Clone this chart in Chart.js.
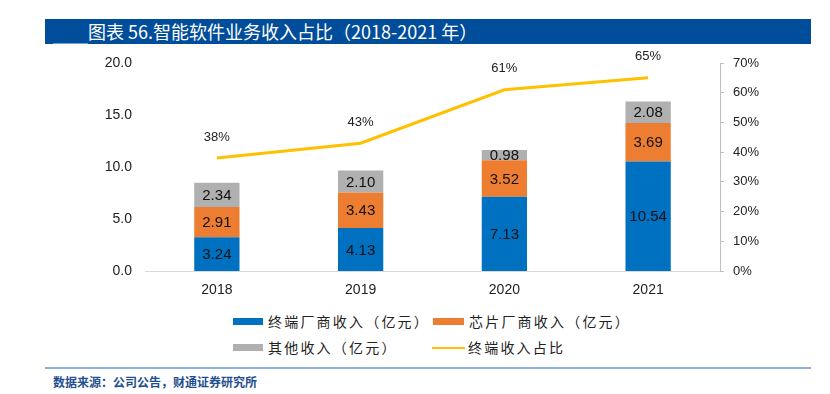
<!DOCTYPE html>
<html>
<head>
<meta charset="utf-8">
<script src="https://cdn.jsdelivr.net/npm/chart.js@4"></script>
<style>
    body { margin: 0; background: #fff; }
    #wrap { position: relative; width: 830px; height: 394px; overflow: hidden; font-family: "Noto Sans CJK SC", "Liberation Sans", sans-serif; }
    #titulo { position: absolute; left: 45px; top: 19px; width: 766px; height: 25px; background: #004d9b; }
    #titulo span { position: absolute; left: 43px; top: 0px; color: #fff; font-size: 18px; line-height: 24px; white-space: nowrap; }
    .risco { position: absolute; height: 1px; background: #6f9fd6; }
    #grafico { position: absolute; left: 0; top: 0; }
    .leg { position: absolute; font-size: 14px; color: #222; letter-spacing: 2.2px; white-space: nowrap; line-height: 16px; }
    .cx { position: absolute; }
    #fonte { position: absolute; left: 53px; top: 373px; font-size: 12px; font-weight: bold; color: #1f4f8f; white-space: nowrap; }
</style>
</head>
<body>
<div id="wrap">
    <div id="titulo"><span>图表 56.智能软件业务收入占比（2018-2021 年）</span></div>
    <div class="risco" style="left:53px; top:43px; width:35px;"></div>
    <canvas id="grafico" width="830" height="300"></canvas>

    <div class="cx" style="left:233px; top:318px; width:30px; height:7px; background:#0070c0;"></div>
    <div class="leg" style="left:268px; top:313px;">终端厂商收入（亿元）</div>
    <div class="cx" style="left:433px; top:318px; width:31px; height:7px; background:#ed7d31;"></div>
    <div class="leg" style="left:469px; top:313px;">芯片厂商收入（亿元）</div>
    <div class="cx" style="left:233px; top:344px; width:30px; height:7px; background:#b0b0b0;"></div>
    <div class="leg" style="left:268px; top:339px;">其他收入（亿元）</div>
    <div class="cx" style="left:432px; top:347px; width:33px; height:2px; background:#ffc000;"></div>
    <div class="leg" style="left:468px; top:339px;">终端收入占比</div>

    <div class="risco" style="left:45px; top:367px; width:766px; height:2px; background:#8db3e2;"></div>
    <div id="fonte">数据来源：公司公告，财通证券研究所</div>
</div>
<script>
// Dados do gráfico
const anos = ['2018', '2019', '2020', '2021'];
const receitaTerminal = [3.24, 4.13, 7.13, 10.54];
const receitaChip = [2.91, 3.43, 3.52, 3.69];
const receitaOutros = [2.34, 2.10, 0.98, 2.08];
const participacao = [38, 43, 61, 65];   // %
const ticksEsquerda = [0, 5, 10, 15, 20];
const ticksDireita = [0, 10, 20, 30, 40, 50, 60, 70];

// Plugin simples para escrever os rótulos
const rotulos = {
    id: 'rotulos',
    afterDatasetsDraw(chart) {
        const ctx = chart.ctx;
        ctx.save();
        ctx.textAlign = 'center';
        ctx.textBaseline = 'middle';
        chart.data.datasets.forEach((ds, i) => {
            const meta = chart.getDatasetMeta(i);
            meta.data.forEach((el, j) => {
                if (ds.type === 'line') {
                    ctx.font = '13px "Liberation Sans", Arial, sans-serif';
                    ctx.fillStyle = '#222';
                    ctx.fillText(ds.data[j] + '%', el.x, el.y - 21);
                } else {
                    const meio = (el.y + el.base) / 2;
                    ctx.font = '15px "Liberation Sans", Arial, sans-serif';
                    ctx.fillStyle = '#111';
                    ctx.fillText(ds.data[j].toFixed(2), el.x, meio + 1);
                }
            });
        });
        ctx.restore();
    }
};

const fonteEixo = { family: '"Liberation Sans", Arial, sans-serif', size: 14 };

new Chart(document.getElementById('grafico'), {
    data: {
        labels: anos,
        datasets: [
            {
                type: 'line',
                label: '终端收入占比',
                data: participacao,
                yAxisID: 'y2',
                borderColor: '#ffc000',
                borderWidth: 3,
                pointRadius: 0,
                tension: 0,
                order: 0
            },
            {
                type: 'bar',
                label: '终端厂商收入（亿元）',
                data: receitaTerminal,
                backgroundColor: '#0070c0',
                yAxisID: 'y',
                order: 1
            },
            {
                type: 'bar',
                label: '芯片厂商收入（亿元）',
                data: receitaChip,
                backgroundColor: '#ed7d31',
                yAxisID: 'y',
                order: 1
            },
            {
                type: 'bar',
                label: '其他收入（亿元）',
                data: receitaOutros,
                backgroundColor: '#b0b0b0',
                yAxisID: 'y',
                order: 1
            }
        ]
    },
    options: {
        responsive: false,
        animation: false,
        layout: { padding: { top: 63, left: 0, right: 0, bottom: 0 } },
        datasets: { bar: { categoryPercentage: 1, barPercentage: 0.315 } },
        plugins: { legend: { display: false }, tooltip: { enabled: false } },
        scales: {
            x: {
                stacked: true,
                grid: { display: false, drawTicks: false },
                border: { display: true, color: '#d9d9d9', width: 1 },
                ticks: { color: '#222', font: fonteEixo, padding: 11 },
                afterFit: s => { s.height = 29; }
            },
            y: {
                stacked: true,
                position: 'left',
                min: 0,
                max: 20,
                grid: { display: false, drawTicks: false },
                border: { display: false },
                afterBuildTicks: s => { s.ticks = ticksEsquerda.map(v => ({ value: v })); },
                ticks: { color: '#222', font: fonteEixo, padding: 13, callback: v => v.toFixed(1) },
                afterFit: s => { s.width = 145; }
            },
            y2: {
                position: 'right',
                min: 0,
                max: 70,
                grid: { display: true, drawOnChartArea: false, drawTicks: true, tickLength: 4, color: '#bfbfbf' },
                border: { display: true, color: '#bfbfbf', width: 1 },
                afterBuildTicks: s => { s.ticks = ticksDireita.map(v => ({ value: v })); },
                ticks: { color: '#222', font: { family: fonteEixo.family, size: 13 }, padding: 9, callback: v => v + '%' },
                afterFit: s => { s.width = 110; }
            }
        }
    },
    plugins: [rotulos]
});
</script>
</body>
</html>
